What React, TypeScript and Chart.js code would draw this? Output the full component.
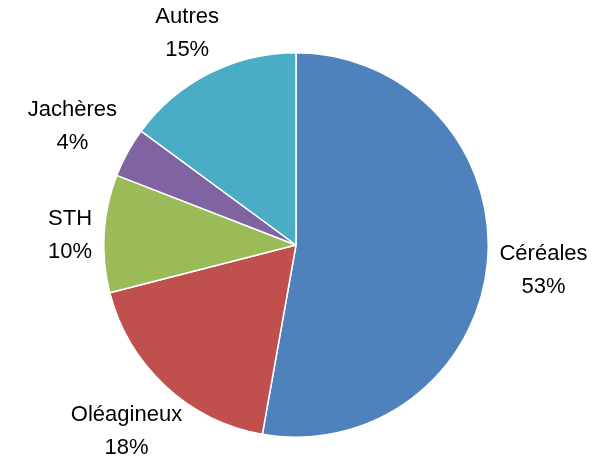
import React, { useEffect, useRef } from "react";
import { Chart, registerables } from "chart.js";

Chart.register(...registerables);

const categories = ["Céréales", "Oléagineux", "STH", "Jachères", "Autres"];
const values = [52.8, 18.2, 9.9, 4.2, 14.9];
const colors = ["#4F81BD", "#C0504D", "#9BBB59", "#8064A2", "#4BACC6"];

const FONT = "22px 'Liberation Sans', Arial, sans-serif";
const LINE_H = 33;

const outsideLabels = {
  id: "outsideLabels",
  afterDatasetsDraw(chart: any) {
    const ctx = chart.ctx;
    const meta = chart.getDatasetMeta(0);
    const total = values.reduce((a, b) => a + b, 0);
    ctx.save();
    ctx.font = FONT;
    ctx.fillStyle = "#000000";
    ctx.textAlign = "center";
    ctx.textBaseline = "middle";
    meta.data.forEach((arc: any, i: number) => {
      const { x, y, startAngle, endAngle, outerRadius } = arc.getProps(
        ["x", "y", "startAngle", "endAngle", "outerRadius"],
        true
      );
      const mid = (startAngle + endAngle) / 2;
      const dx = Math.cos(mid);
      const dy = Math.sin(mid);
      const l1 = categories[i];
      const l2 = Math.round((values[i] / total) * 100) + "%";
      const w = Math.max(ctx.measureText(l1).width, ctx.measureText(l2).width);
      const hw = w / 2;
      const hh = LINE_H;
      const ex = Math.abs(dx) > 1e-6 ? hw / Math.abs(dx) : Infinity;
      const ey = Math.abs(dy) > 1e-6 ? hh / Math.abs(dy) : Infinity;
      const extent = Math.min(ex, ey);
      const dist = outerRadius + 12 + extent;
      const cx = x + dx * dist;
      const cy = y + dy * dist + 4;
      ctx.fillText(l1, cx, cy - LINE_H / 2);
      ctx.fillText(l2, cx, cy + LINE_H / 2);
    });
    ctx.restore();
  },
};

export default function App() {
  const ref = useRef<HTMLCanvasElement | null>(null);
  useEffect(() => {
    if (!ref.current) return;
    const chart = new Chart(ref.current, {
      type: "pie",
      data: {
        labels: categories,
        datasets: [
          {
            data: values,
            backgroundColor: colors,
            borderColor: "#FFFFFF",
            borderWidth: 1.5,
          },
        ],
      },
      options: {
        responsive: false,
        animation: false,
        layout: { padding: { left: 103, right: 112, top: 52, bottom: 19 } },
        plugins: {
          legend: { display: false },
          tooltip: { enabled: false },
        },
      },
      plugins: [outsideLabels],
    });
    return () => chart.destroy();
  }, []);
  return (
    <div style={{ position: "fixed", left: 0, top: 0, width: 601, height: 457, background: "#fff" }}>
      <canvas ref={ref} width={601} height={457} style={{ width: 601, height: 457 }} />
    </div>
  );
}
